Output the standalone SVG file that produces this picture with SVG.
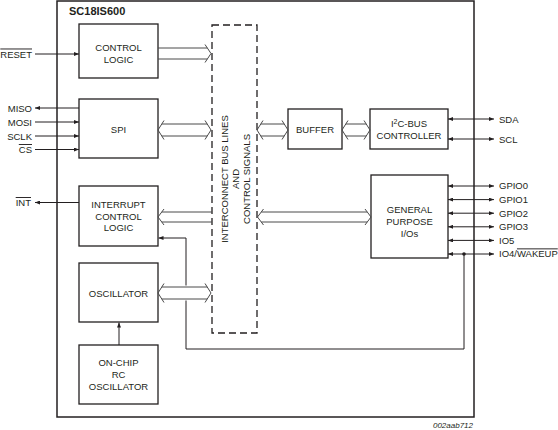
<svg xmlns="http://www.w3.org/2000/svg" width="558" height="430" viewBox="0 0 558 430">
<style>
.box{fill:#fff;stroke:#231f20;stroke-width:1.3}
.t{font-family:"Liberation Sans",Arial,sans-serif;font-size:9.5px;fill:#231f20}
.ln{stroke:#231f20;stroke-width:1;fill:none}
.bl{stroke:#4a4a4a;stroke-width:1;fill:none}
.ol{text-decoration:overline}
</style>
<defs>
<marker id="ah" viewBox="0 0 5 4" refX="5" refY="2" markerWidth="5" markerHeight="4" markerUnits="userSpaceOnUse" orient="auto-start-reverse"><path d="M0,0 L5,2 L0,4 z" fill="#231f20"/></marker>
</defs>
<rect width="558" height="430" fill="#fff"/>
<g id="chip">
<rect x="57" y="1" width="417" height="416" fill="none" stroke="#231f20" stroke-width="1.5"/>
<text x="69" y="15" style="font-family:'Liberation Sans',Arial,sans-serif;font-size:11px;font-weight:bold;fill:#231f20">SC18IS600</text>
</g>
<g id="control-logic">
<rect class="box" x="79" y="24" width="79" height="54"/>
<text class="t" text-anchor="middle" x="118.5" y="50.5">CONTROL</text>
<text class="t" text-anchor="middle" x="118.5" y="62.5">LOGIC</text>
</g>
<g id="spi">
<rect class="box" x="79" y="99" width="79" height="59"/>
<text class="t" text-anchor="middle" x="118.5" y="133">SPI</text>
</g>
<g id="interrupt">
<rect class="box" x="79" y="186" width="79" height="60"/>
<text class="t" text-anchor="middle" x="118.5" y="207.5">INTERRUPT</text>
<text class="t" text-anchor="middle" x="118.5" y="219.5">CONTROL</text>
<text class="t" text-anchor="middle" x="118.5" y="231">LOGIC</text>
</g>
<g id="oscillator">
<rect class="box" x="79" y="263" width="79" height="59"/>
<text class="t" text-anchor="middle" x="118.5" y="296.5">OSCILLATOR</text>
</g>
<g id="rc-oscillator">
<rect class="box" x="79" y="345" width="79" height="59"/>
<text class="t" text-anchor="middle" x="118.5" y="365.5">ON-CHIP</text>
<text class="t" text-anchor="middle" x="118.5" y="378">RC</text>
<text class="t" text-anchor="middle" x="118.5" y="389.5">OSCILLATOR</text>
</g>
<g id="bus">
<rect x="212" y="25" width="45" height="308" fill="none" stroke="#231f20" stroke-width="1.3" stroke-dasharray="7 4"/>
<text class="t" text-anchor="middle" transform="translate(236,179) rotate(-90)"><tspan x="0" y="-7.6">INTERCONNECT BUS LINES</tspan><tspan x="0" y="3.4">AND</tspan><tspan x="0" y="14.4">CONTROL SIGNALS</tspan></text>
</g>
<g id="buffer">
<rect class="box" x="288" y="109" width="54" height="40"/>
<text class="t" text-anchor="middle" x="315" y="133">BUFFER</text>
</g>
<g id="i2c">
<rect class="box" x="370" y="109" width="78" height="40"/>
<text class="t" text-anchor="middle" x="409" y="127">I<tspan font-size="7" dy="-3">2</tspan><tspan dy="3">C-BUS</tspan></text>
<text class="t" text-anchor="middle" x="409" y="138.5">CONTROLLER</text>
</g>
<g id="gpio">
<rect class="box" x="371" y="175" width="77" height="83"/>
<text class="t" text-anchor="middle" x="409.5" y="212.5">GENERAL</text>
<text class="t" text-anchor="middle" x="409.5" y="224.5">PURPOSE</text>
<text class="t" text-anchor="middle" x="409.5" y="236.5">I/Os</text>
</g>
<g id="connectors">
<path class="bl" d="M158,48 H207.3 M158,59 H207.3 M205,44.5 L211,53.5 L205,62.5"/>
<path class="bl" d="M161.8,124 H207.2 M161.8,136 H207.2 M164,120.5 L158,130 L164,139.5 M205,120.5 L211,130 L205,139.5"/>
<path class="bl" d="M260.8,124 H284.2 M260.8,136 H284.2 M263,120.5 L257,130 L263,139.5 M282,120.5 L288,130 L282,139.5"/>
<path class="bl" d="M345.8,124 H366.2 M345.8,136 H366.2 M348,120.5 L342,130 L348,139.5 M364,120.5 L370,130 L364,139.5"/>
<path class="bl" d="M161.8,212 H212 M161.8,222 H212 M164,209 L158,217 L164,225"/>
<path class="bl" d="M261.3,212 H367.2 M261.3,222 H367.2 M263.5,209 L257.5,217 L263.5,225 M365,209 L371,217 L365,225"/>
<path class="bl" d="M161.8,287 H207.2 M161.8,299 H207.2 M164,283.5 L158,293 L164,302.5 M205,283.5 L211,293 L205,302.5"/>
<path class="ln" d="M35,54 H79" marker-end="url(#ah)"/>
<path class="ln" d="M79,108 H35" marker-end="url(#ah)"/>
<path class="ln" d="M35,122 H79" marker-end="url(#ah)"/>
<path class="ln" d="M35,136 H79" marker-end="url(#ah)"/>
<path class="ln" d="M35,149.5 H79" marker-end="url(#ah)"/>
<path class="ln" d="M79,202.5 H35" marker-end="url(#ah)"/>
<path class="ln" d="M119,345 V322.5" marker-end="url(#ah)"/>
<path class="ln" d="M448,119 H494" marker-start="url(#ah)" marker-end="url(#ah)"/>
<path class="ln" d="M448,139 H494" marker-start="url(#ah)" marker-end="url(#ah)"/>
<path class="ln" d="M448,186 H494" marker-start="url(#ah)" marker-end="url(#ah)"/>
<path class="ln" d="M448,199.6 H494" marker-start="url(#ah)" marker-end="url(#ah)"/>
<path class="ln" d="M448,213.2 H494" marker-start="url(#ah)" marker-end="url(#ah)"/>
<path class="ln" d="M448,226.8 H494" marker-start="url(#ah)" marker-end="url(#ah)"/>
<path class="ln" d="M448,240.4 H494" marker-start="url(#ah)" marker-end="url(#ah)"/>
<path class="ln" d="M448,254 H494" marker-start="url(#ah)" marker-end="url(#ah)"/>
<path class="ln" d="M464,254 V349 H186 V300.5"/>
<path class="ln" d="M186,285.5 V238 H158.5" marker-end="url(#ah)"/>
<circle cx="464" cy="254" r="1.8" fill="#231f20"/>
</g>
<g id="pins">
<text class="t" text-anchor="end" x="32" y="57.5"><tspan class="ol">RESET</tspan></text>
<text class="t" text-anchor="end" x="32" y="111.5">MISO</text>
<text class="t" text-anchor="end" x="32" y="125.5">MOSI</text>
<text class="t" text-anchor="end" x="32" y="139.5">SCLK</text>
<text class="t" text-anchor="end" x="32" y="153"><tspan class="ol">CS</tspan></text>
<text class="t" text-anchor="end" x="31" y="206"><tspan class="ol">INT</tspan></text>
<text class="t" x="499" y="122.5">SDA</text>
<text class="t" x="499" y="142.5">SCL</text>
<text class="t" x="499" y="189.4">GPIO0</text>
<text class="t" x="499" y="203">GPIO1</text>
<text class="t" x="499" y="216.6">GPIO2</text>
<text class="t" x="499" y="230.2">GPIO3</text>
<text class="t" x="499" y="243.8">IO5</text>
<text class="t" x="499" y="257.4">IO4/<tspan class="ol">WAKEUP</tspan></text>
<text x="473" y="428" text-anchor="end" style="font-family:'Liberation Sans',Arial,sans-serif;font-size:8px;font-style:italic;fill:#231f20">002aab712</text>
</g>
</svg>
